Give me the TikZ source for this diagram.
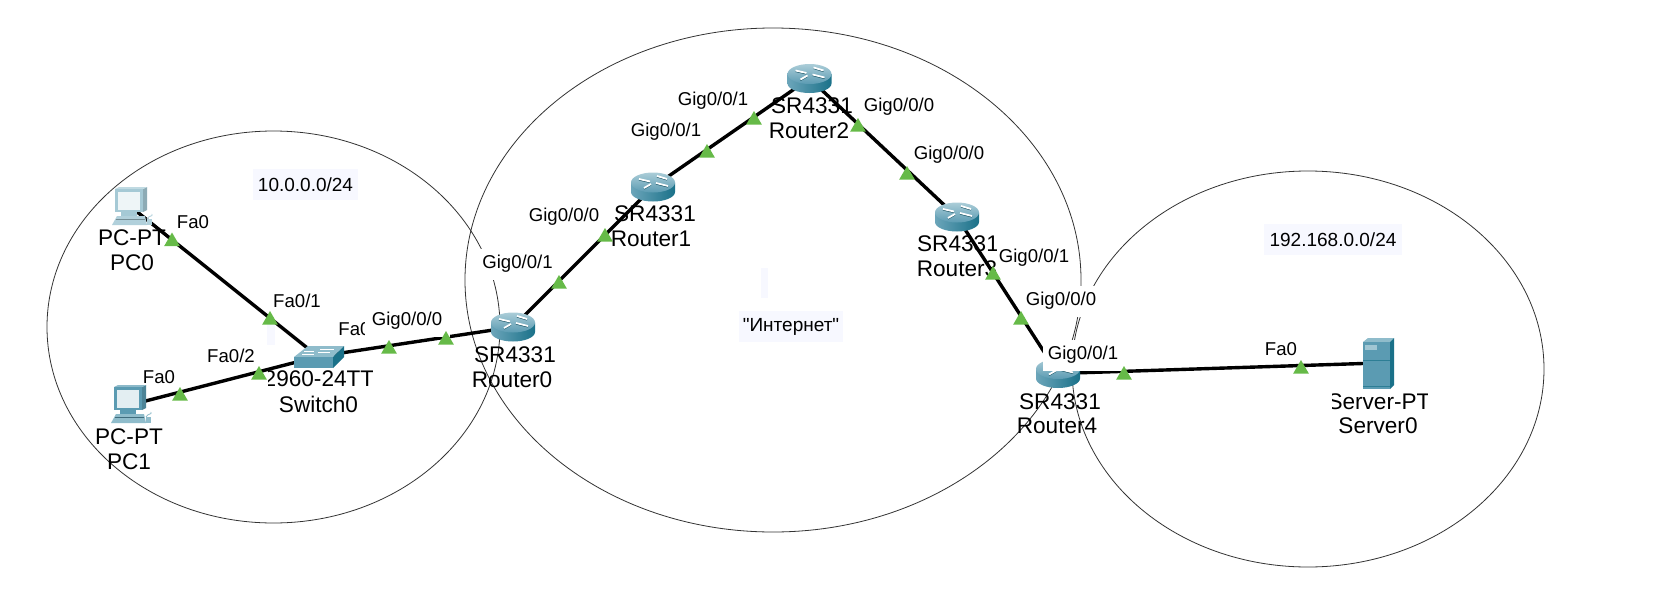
\documentclass[tikz,border=0pt]{standalone}
\usepackage{fontspec}
\setmainfont{Liberation Sans}[Ligatures=TeXOff]
\usetikzlibrary{shapes.geometric}
\definecolor{tint}{HTML}{F7F8FF}
\definecolor{portgreen}{HTML}{66BA48}
\definecolor{teal1}{HTML}{5B9BB2}
\definecolor{teal2}{HTML}{1A7189}
\definecolor{teal3}{HTML}{8FBCCB}
\tikzset{
  net/.style={ellipse,draw=black!80,line width=0.4pt,inner sep=0pt},
  link/.style={line width=1.7pt,black},
  anchorbox/.style={inner sep=0pt,minimum size=2pt},
  devlabel/.style={inner sep=0pt,font=\fontsize{11.3}{13}\selectfont},
  portlabel/.style={inner sep=0pt,font=\fontsize{9.3}{11}\selectfont},
  portcut/.style={portlabel,fill=white,minimum height=15.5pt},
  tagbox/.style={fill=tint,inner sep=0pt,font=\fontsize{9.5}{11}\selectfont},
  tintbit/.style={fill=tint,inner sep=0pt},
  portmark/.style={regular polygon,regular polygon sides=3,fill=portgreen,inner sep=0pt,minimum size=9pt,yshift=-1pt}
}
\newcommand{\routerdraw}[1]{%
  \begin{scope}[shift={(#1.center)}]
    \path[left color=teal1!90,middle color=white!85!teal1,right color=teal2]
      (-22,-4.5) -- (-22,5) arc[start angle=180,end angle=0,x radius=22,y radius=9.5] -- (22,-4.5) -- cycle;
    \path[top color=teal3!75!white,bottom color=teal1] (0,-4.5) ellipse[x radius=22,y radius=10];
    \foreach \a/\b/\c/\d in {-14/-8/-3/-5.5, 4/-11/14/-8, -9/1/-2/-3, 3/-4/15/-1}{
      \draw[teal2!70!black,line width=0.5pt] (\a,\b+1) -- (\c,\d+1);
      \draw[white,line width=0.9pt] (\a,\b) -- (\c,\d);
    }
  \end{scope}}
\newcommand{\pcdraw}[4]{%
  \begin{scope}[shift={(#1.center)}]
    \fill[#2!85!black] (12,-18) -- (16,-20) -- (16,3) -- (12,5) -- cycle;
    \fill[#2!70!white] (-16,-18) -- (-12,-20) -- (16,-20) -- (12,-18) -- cycle;
    \fill[#2] (-16,-18) rectangle (12,5);
    \fill[#3] (-13,-15) rectangle (9,3);
    \fill[#2] (-10,5) rectangle (6,9);
    \fill[#4] (-19,18) -- (-14,9) -- (14,9) -- (16,18) -- cycle;
    \draw[#2!70!black,line width=0.4pt] (-15,12) -- (14,12);
    \fill[#4] (16,12) rectangle (21,18);
    \draw[#4,line width=0.4pt] (16,12) .. controls (18,8) and (22,10) .. (21,7);
  \end{scope}}
\begin{document}
\begin{tikzpicture}[x=0.5pt,y=-0.5pt]
\useasboundingbox (0,0) rectangle (1666,611);
\fill[white] (0,0) rectangle (1666,611);

% networks
\node[net,minimum width=226.5pt,minimum height=196pt] (netA) at (273.5,327) {};
\node[net,minimum width=308pt,minimum height=252pt] (netB) at (773,280) {};
\node[net,minimum width=236pt,minimum height=198pt] (netC) at (1308,369) {};

% faint remains
\node[tintbit,minimum width=4pt,minimum height=11pt] (bitA) at (271,334) {};
\node[tintbit,minimum width=3.5pt,minimum height=15pt] (bitB) at (764.5,283) {};

% device anchors
\node[anchorbox] (pc0) at (131,207) {};
\node[anchorbox] (pc1) at (130,405) {};
\node[anchorbox] (sw0) at (318,356.5) {};
\node[anchorbox] (r0) at (513,327) {};
\node[anchorbox] (r1) at (653,187) {};
\node[anchorbox] (r2) at (809.5,78.5) {};
\node[anchorbox] (r3) at (957,217) {};
\node[anchorbox] (r4) at (1058,373.5) {};
\node[anchorbox] (srv) at (1378,363) {};

% links
\draw[link] (pc0.center) -- (sw0.center);
\draw[link] (pc1.center) -- (sw0.center);
\draw[link] (sw0.center) -- (r0.center);
\draw[link] (r0.center) -- (r1.center);
\draw[link] (r1.center) -- (r2.center);
\draw[link] (r2.center) -- (r3.center);
\draw[link] (r3.center) -- (r4.center);
\draw[link] (r4.center) -- (srv.center);

% icons
\pcdraw{pc0}{teal3!80!white}{white!85!teal3}{teal3!70!white}
\pcdraw{pc1}{teal1}{white!75!teal3}{teal3}
\routerdraw{r0}\routerdraw{r1}\routerdraw{r2}\routerdraw{r3}\routerdraw{r4}
\begin{scope}[shift={(sw0.center)}]
  \fill[teal3] (-24,0.5) -- (-10,-10.5) -- (26,-10.5) -- (15,0.5) -- cycle;
  \fill[teal1] (-24,0.5) rectangle (15,11.5);
  \fill[teal2] (15,0.5) -- (26,-10.5) -- (26,0.5) -- (15,11.5) -- cycle;
  \draw[white,line width=0.4pt] (-14,-5) -- (-4,-5) (2,-7) -- (16,-7) (-16,-2) -- (-4,-2) (0,-4) -- (12,-4);
\end{scope}
\begin{scope}[shift={(srv.center)}]
  \fill[teal3] (-15,-21) -- (-10,-25) -- (16,-25) -- (12,-21) -- cycle;
  \fill[teal1] (-15,-21) rectangle (12,26);
  \fill[teal2] (12,-21) -- (16,-25) -- (16,22) -- (12,26) -- cycle;
  \fill[teal3!85!white] (-13,-18) rectangle (-1,-13);
  \draw[teal2!70!teal1,line width=0.3pt] (-15,-3) -- (12,-3) (-15,23) -- (12,23);
\end{scope}

% tag boxes
\node[tagbox,minimum width=52.5pt,minimum height=15.5pt] (tagA) at (305.5,184.5) {10.0.0.0/24};
\node[tagbox,minimum width=52pt,minimum height=15.5pt] (tagB) at (791,326.5) {"Интернет"};
\node[tagbox,minimum width=69pt,minimum height=15.5pt] (tagC) at (1333,239.5) {192.168.0.0/24};

% device labels
\node[devlabel] (l0a) at (132,238) {PC-PT};
\node[devlabel] (l0b) at (132,262.5) {PC0};
\node[devlabel] (l1a) at (129,437) {PC-PT};
\node[devlabel] (l1b) at (129,462) {PC1};
\begin{scope}
  \clip (268,360) rectangle (372,392);
  \node[devlabel] (lsa) at (319,379) {2960-24TT};
\end{scope}
\node[devlabel] (lsb) at (318.5,404) {Switch0};
\node[devlabel] (lr0a) at (515,355) {SR4331};
\node[devlabel] (lr0b) at (512,380) {Router0};
\node[devlabel] (lr1a) at (655,214) {SR4331};
\node[devlabel] (lr1b) at (651,239) {Router1};
\node[devlabel] (lr2a) at (812,106) {SR4331};
\node[devlabel] (lr2b) at (809,131) {Router2};
\node[devlabel] (lr3a) at (958,244) {SR4331};
\node[devlabel] (lr3b) at (957,269) {Router3};
\node[devlabel] (lr4a) at (1060,402) {SR4331};
\node[devlabel] (lr4b) at (1057,426) {Router4};
\begin{scope}
  \clip (1332,385) rectangle (1427,415);
  \node[devlabel] (lva) at (1379,402) {Server-PT};
\end{scope}
\node[devlabel] (lvb) at (1378,426) {Server0};

% port labels
\node[portlabel] (p1) at (193,222) {Fa0};
\node[portlabel] (p2) at (297,301) {Fa0/1};
\node[portlabel] (p3) at (231,356) {Fa0/2};
\node[portlabel] (p4) at (159,377) {Fa0};
\node[portlabel] (p5) at (354.5,329) {Fa0};
\node[portcut,minimum width=42.5pt] (p6) at (407,321) {Gig0/0/0};
\node[portcut,minimum width=37.5pt] (p7) at (517.5,264) {Gig0/0/1};
\node[portlabel] (p8) at (564,217) {Gig0/0/0};
\node[portlabel] (p9) at (666,132) {Gig0/0/1};
\node[portlabel] (p10) at (713,101) {Gig0/0/1};
\node[portlabel] (p11) at (899,107) {Gig0/0/0};
\node[portlabel] (p12) at (949,155) {Gig0/0/0};
\node[portcut,minimum width=37pt] (p13) at (1034,258) {Gig0/0/1};
\node[portcut,minimum width=35pt] (p14) at (1061,301) {Gig0/0/0};
\node[portcut,minimum width=40pt] (p15) at (1083,355) {Gig0/0/1};
\node[portlabel] (p16) at (1281,349) {Fa0};

% port marks
\foreach \n/\x/\y in {m1/172/239.5,m2/270/318,m3/180/394,m4/259/373,m5/389/347,m6/446/338,
  m7/559/282,m8/605/235,m9/707/151,m10/754/118,m11/858/125,m12/907/173,m13/993/273,
  m14/1021/318,m15/1124/373,m16/1301/367}
  \node[portmark] (\n) at (\x,\y) {};
\end{tikzpicture}
\end{document}
